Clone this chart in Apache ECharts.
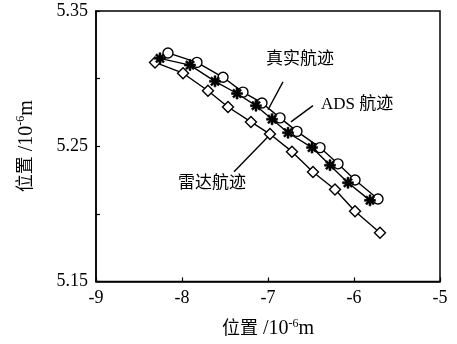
<!DOCTYPE html>
<html><head><meta charset="utf-8">
<script src="https://cdn.jsdelivr.net/npm/echarts@6/dist/echarts.min.js"></script>
<style>html,body{margin:0;padding:0;background:#fff}#c{width:457px;height:344px}</style>
</head><body><div id="c"></div>
<script>
// True track (circles)
const trueX = [-8.163,-7.826,-7.523,-7.291,-7.070,-6.860,-6.663,-6.395,-6.186,-5.988,-5.721];
const trueY = [5.319,5.312,5.301,5.290,5.282,5.271,5.261,5.249,5.237,5.225,5.211];
// ADS track (asterisks)
const adsX = [-8.256,-7.907,-7.616,-7.360,-7.140,-6.953,-6.767,-6.488,-6.279,-6.070,-5.814];
const adsY = [5.315,5.310,5.298,5.289,5.280,5.270,5.260,5.249,5.236,5.223,5.210];
// Radar track (diamonds)
const radX = [-8.314,-7.988,-7.698,-7.465,-7.198,-6.977,-6.721,-6.477,-6.221,-5.988,-5.698];
const radY = [5.312,5.304,5.291,5.279,5.268,5.259,5.246,5.231,5.218,5.202,5.186];
// Annotations: label, text position, leader start, leader end (data units)
const annLabels = ['真实航迹','ADS 航迹','雷达航迹'];
const annText = [[-6.628,5.3139],[-5.965,5.2807],[-7.651,5.2224]];
const annFrom = [[-6.826,5.2976],[-6.477,5.280],[-7.395,5.2312]];
const annTo = [[-7.0,5.277],[-6.733,5.268],[-7.0,5.257]];
const xTicks = {min:-9,max:-5,interval:1};
const yTicks = {min:5.15,max:5.35,interval:0.05};

const zip = (a,b)=>a.map((v,i)=>[v,b[i]]);
const FONT = "'Liberation Serif','Noto Sans CJK SC',serif";
const star = 'path://M-0.9 -5 L0.9 -5 L0.9 5 L-0.9 5 Z M-5 -0.9 L5 -0.9 L5 0.9 L-5 0.9 Z M-4.2 -2.9 L-2.9 -4.2 L4.2 2.9 L2.9 4.2 Z M2.9 -4.2 L4.2 -2.9 L-2.9 4.2 L-4.2 2.9 Z';
const nameRich = {
  c:{fontFamily:FONT,fontSize:18,color:'#000'},
  a:{fontFamily:FONT,fontSize:20,color:'#000'},
  s:{fontFamily:FONT,fontSize:12,color:'#000',verticalAlign:'top',padding:[0,0,11,0]}
};
const chart = echarts.init(document.getElementById('c'));
const lineStyle = {color:'#000',width:1.4};
chart.setOption({
  animation:false,
  backgroundColor:'#fff',
  grid:{left:96,right:17,top:11,bottom:62,show:true,borderColor:'#000',borderWidth:1.5,backgroundColor:'transparent'},
  xAxis:{type:'value',min:xTicks.min,max:xTicks.max,interval:xTicks.interval,
    axisLine:{show:true,onZero:false,lineStyle:{color:'#000',width:1.5}},
    axisTick:{inside:true,length:4,lineStyle:{color:'#000',width:1.2}},
    splitLine:{show:false},
    axisLabel:{color:'#000',fontFamily:FONT,fontSize:18,margin:8},
    name:'{c|位置}{a| /10}{s|-6}{a|m}',nameLocation:'middle',nameGap:36,
    nameTextStyle:{rich:nameRich}},
  yAxis:{type:'value',min:yTicks.min,max:yTicks.max,interval:yTicks.interval,
    axisLine:{show:true,onZero:false,lineStyle:{color:'#000',width:1.5}},
    axisTick:{inside:true,length:4,lineStyle:{color:'#000',width:1.2}},
    splitLine:{show:false},
    axisLabel:{color:'#000',fontFamily:FONT,fontSize:18,margin:8,
      formatter:v=>Math.round(v*100)%10===5?v.toFixed(2):''},
    name:'{c|位置}{a| /10}{s|-6}{a|m}',nameLocation:'middle',nameGap:58,nameRotate:90,
    nameTextStyle:{rich:nameRich}},
  series:[
    {type:'line',name:'真实航迹',data:zip(trueX,trueY),symbol:'circle',symbolSize:10,
      lineStyle,itemStyle:{color:'#fff',borderColor:'#000',borderWidth:1.4},z:3},
    {type:'line',name:'ADS航迹',data:zip(adsX,adsY),symbol:star,symbolSize:11,
      lineStyle,itemStyle:{color:'#000',borderColor:'#000',borderWidth:0.6},z:4},
    {type:'line',name:'雷达航迹',data:zip(radX,radY),symbol:'diamond',symbolSize:[11,11],
      lineStyle,itemStyle:{color:'#fff',borderColor:'#000',borderWidth:1.4},z:2,
      markLine:{silent:true,symbol:['none','none'],animation:false,
        lineStyle:{color:'#000',width:1.4,type:'solid'},label:{show:false},
        data:annFrom.map((f,i)=>[{coord:f},{coord:annTo[i]}])},
      markPoint:{silent:true,symbol:'circle',symbolSize:0,
        label:{show:true,color:'#000',fontFamily:FONT,fontSize:17,position:'inside',formatter:p=>p.name},
        data:annText.map((c,i)=>({name:annLabels[i],coord:c}))}}
  ]
});
</script></body></html>
